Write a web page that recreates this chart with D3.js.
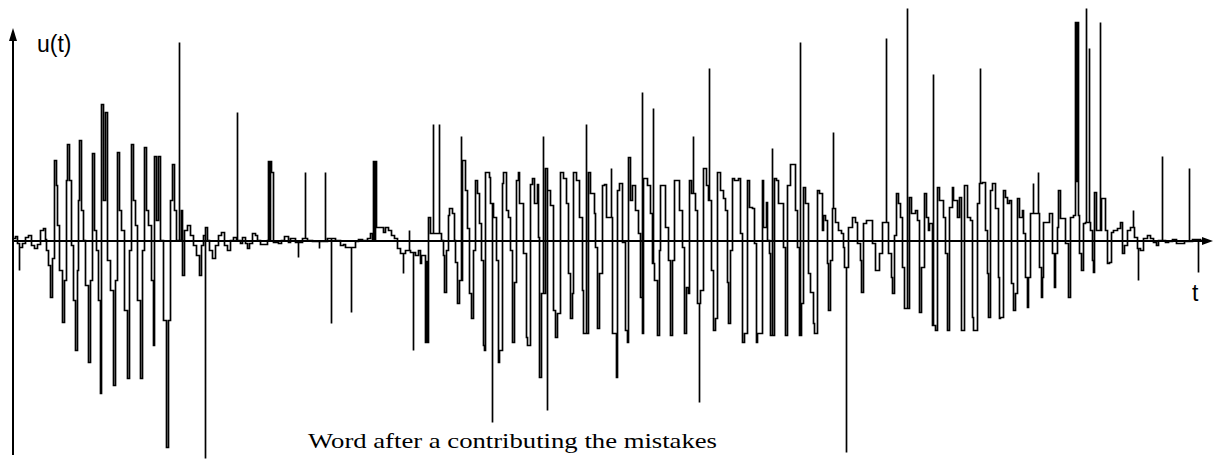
<!DOCTYPE html>
<html>
<head>
<meta charset="utf-8">
<script src="https://cdn.jsdelivr.net/npm/d3@7"></script>
<style>
  body { margin: 0; background: #fff; }
  svg { display: block; }
  .wave { fill: none; stroke: #000; stroke-width: 1.7; stroke-linejoin: miter; }
  .axis-line { stroke: #000; stroke-width: 2; shape-rendering: crispEdges; }
</style>
</head>
<body>
<div id="plot"></div>
<script>
// Samples of u(t) as [t, u]
const quietStart = [[0,3],[2,5],[4,-2],[6,-6],[9,-2],[12,4],[15,6],[18,-4],[21,-7],[24,-3],[27,11],[30,13],[32,2]];

const burstOne = [
  [33,-9],[35,-24],[37,-56],[39,-17],[41,81],[43,56],[44,16],[46,-29],[49,-81],[51,-39],
  [53,61],[54,97],[56,61],[58,-4],[60,-59],[62,-109],[64,-29],[65,41],[66,101],[68,31],
  [70,1],[72,-44],[75,-121],[77,-39],[79,88],[81,11],[83,-9],[85,-59],[87,-152],[88,137],
  [90,41],[92,129],[94,-19],[97,-49],[100,-144],[102,-39],[104,89],[106,31],[108,11],[111,-69],
  [114,-137],[116,-9],[118,97],[120,41],[122,16],[124,-59],[127,-137],[129,-9],[131,94],[133,31],
  [135,16],[138,-39],[140,-104],[141,85],[143,21],[145,85],[147,1],[150,-79],[153,-206],[154,-206],
  [155,-79],[157,41],[159,77],[161,31],[163,1],[168,31],[169,-34],[171,11],[174,16],[177,6],
  [180,-4],[183,-14],[186,-34],[188,-4],[190,6],[192,14],[194,1],[196,-9],[199,-17],[202,-4],
  [205,6],[208,9],[211,-4],[214,-9],[217,1],[220,4],[223,1],[227,-2]
];

const quietMid = [
  [229,4],[232,-2],[234,-7],[236,-2],[239,8],[242,6],[244,1],[247,-3],[250,-3],[254,1],
  [255,80],[256,2],[257,80],[258,69],[260,-1],[265,-2],[268,1],[271,5],[275,-1],[277,3],
  [282,-1],[289,3],[294,1],[299,0],[314,3],[322,1],[327,-4],[330,-3],[332,-6],[342,0],
  [345,2],[349,1],[354,3],[357,8],[359,1],[360,80],[361,2],[362,80],[363,14],[367,14],
  [370,9],[372,14],[375,11],[378,6],[381,3],[384,-7],[387,-12],[392,-9],[397,-11],[402,-14],
  [405,-9],[407,-22],[408,-14],[412,-101],[413,-20],[414,-101]
];

const burstTwo = [
  [415,24],[417,8],[422,8],[428,1],[430,-14],[431,-51],[433,-9],[435,26],[436,33],[439,28],
  [441,1],[442,-21],[444,-62],[446,-39],[449,81],[452,51],[454,13],[456,-52],[458,-77],[460,-9],
  [462,61],[464,48],[466,18],[468,-19],[470,-104],[471,-109],[472,69],[476,64],[477,38],[480,24],
  [483,-19],[485,-121],[486,-109],[489,58],[490,69],[493,31],[495,24],[497,-9],[499,-101],[501,-41],
  [503,61],[505,69],[506,38],[510,-12],[513,-96],[514,-104],[517,57],[519,63],[521,38],[524,57],
  [525,4],[526,-136],[528,-52],[532,73],[534,51],[537,36],[540,-69],[542,-96],[544,-72],[547,69],
  [550,63],[553,38],[555,-32],[557,-77],[559,-52],[560,69],[563,61],[566,24],[569,-49],[570,-92],
  [575,69],[577,48],[581,28],[582,-6],[584,-87],[586,-32],[589,56],[591,57],[593,24],[596,24],
  [599,-92],[603,-136],[604,51]
];

const burstThree = [
  [606,58],[609,-1],[612,-89],[614,-101],[615,84],[617,41],[619,56],[622,31],[625,8],[627,-56],
  [629,-92],[630,63],[634,56],[637,28],[639,-22],[641,-39],[644,-94],[646,-9],[647,56],[650,56],
  [652,14],[655,-19],[657,-94],[659,-19],[661,61],[664,61],[666,31],[668,31],[669,-6],[671,-92],
  [673,-46],[675,-52],[676,61],[678,48],[682,31],[684,-62],[687,-49],[690,73],[693,56],[695,41],
  [698,-29],[700,-89],[702,-77],[704,69],[707,51],[710,43],[712,31],[714,-41],[715,-82],[717,-9],
  [719,63],[721,61],[725,63],[727,8],[729,-101],[731,-92],[734,61],[736,34],[739,33],[741,-2],
  [743,-101],[744,-92],[749,61],[750,14],[753,39],[754,1],[756,-12],[757,-94],[761,63],[763,61],
  [765,38],[768,38],[770,-6],[772,-94],[774,56],[777,77],[779,77],[782,31],[784,-6],[786,-94],
  [788,-62]
];

const burstFour = [
  [790,54],[792,38],[795,-32],[797,-51],[800,-82],[801,-92],[804,51],[806,48],[809,11],[810,26],
  [812,21],[814,-22],[815,-69],[817,-19],[819,33],[822,19],[825,11],[828,8],[830,-6],[831,-26],
  [835,14],[839,24],[842,19],[844,-2],[847,-19],[848,-51],[850,18],[853,21],[856,21],[859,-2],
  [862,-29],[864,-29],[866,-12],[869,19],[871,19],[875,-12],[878,-36],[879,-52],[881,6],[883,48],
  [885,38],[887,24],[889,-26],[891,-67],[893,-67],[896,44],[898,28],[902,31],[904,21],[906,-71],
  [908,-26],[911,48],[913,24],[915,11],[916,18],[919,-84],[922,-89],[924,54],[926,41],[930,24],
  [932,-12],[934,-89],[936,34],[939,54],[940,41],[944,24],[946,44],[948,-89],[951,56],[954,24],
  [957,21],[959,-76],[960,-89],[964,38],[966,58],[969,59],[972,11],[974,-32],[975,-76],[977,51],
  [979,58],[982,33],[985,-36],[986,-77]
];

const tailEnd = [
  [987,-76],[989,-76],[990,51],[992,44],[994,38],[996,41],[998,-42],[1000,-69],[1002,-52],[1004,43],
  [1006,24],[1009,31],[1010,8],[1012,-36],[1014,-66],[1015,-36],[1017,28],[1022,28],[1026,-26],[1028,-56],
  [1029,-36],[1030,19],[1034,19],[1036,28],[1039,-12],[1041,-46],[1042,-12],[1044,14],[1045,51],[1047,23],
  [1050,23],[1052,-2],[1055,-56],[1057,24],[1060,26],[1062,219],[1063,60],[1064,219],[1065,26],[1066,-12],
  [1068,-29],[1070,18],[1072,19],[1077,11],[1079,-19],[1080,-31],[1081,49],[1083,11],[1088,43],[1091,43],
  [1092,11],[1094,-22],[1096,-21],[1098,9],[1100,11],[1104,13],[1107,19],[1109,-12],[1111,-4],[1114,11],
  [1117,14],[1121,4],[1124,-7],[1127,-9],[1130,3],[1134,6],[1137,3],[1140,-1],[1143,-4],[1145,1],
  [1152,-1],[1155,0],[1159,2],[1163,-2],[1167,-2],[1171,0],[1179,2],[1187,1],[1191,0]
];

// Single-sample spikes [t, u]
const spikes = [
  [6,-29],[166,199],[192,-217],[224,129],[285,-16],[292,69],[306,-7],[312,69],[318,-82],[338,-71],
  [390,-32],[396,11],[400,-109],[420,117],[426,117],[448,105],[479,-181],[530,105],[534,-169],[573,117],
  [598,73],[629,149],[640,133],[680,105],[686,-161],[696,173],[759,93],[787,199],[820,109],[833,-211],
  [873,203],[894,233],[920,167],[967,173],[1020,58],[1025,69],[1073,233],[1076,193],[1087,219],[1120,31],
  [1125,-39],[1149,85],[1176,73],[1185,-31]
];

const yLabel = "u(t)";
const xLabel = "t";
const caption = "Word after a contributing the mistakes";

const width = 1213, height = 459;

const x = d3.scaleLinear().domain([0, 1200]).range([13, 1213]);
const y = d3.scaleLinear().domain([-218, 241]).range([459, 0]);

const svg = d3.select("#plot")
  .append("svg")
  .attr("width", width)
  .attr("height", height);

svg.append("rect").attr("width", width).attr("height", height).attr("fill", "#fff");

// Merge the samples and put each spike in as an up-and-back pair
const samples = [].concat(quietStart, burstOne, quietMid, burstTwo, burstThree, burstFour, tailEnd)
  .sort((a, b) => a[0] - b[0]);

const events = samples.map((d, i) => ({t: d[0], k: 0, i: i, u: d[1]}));
spikes.forEach((s, j) => {
  const prev = samples.filter(d => d[0] <= s[0]);
  const base = prev.length ? prev[prev.length - 1][1] : 0;
  events.push({t: s[0], k: 1, i: j, u: s[1]});
  events.push({t: s[0], k: 2, i: j, u: base});
});
events.sort((a, b) => a.t - b.t || a.k - b.k || a.i - b.i);

const wave = d3.line()
  .x(d => Math.round(x(d.t)) + 0.5)
  .y(d => Math.round(y(d.u)) + 0.5)
  .curve(d3.curveStepAfter);

// Axes
svg.append("line")
  .attr("class", "axis-line")
  .attr("x1", x(0)).attr("x2", x(1192))
  .attr("y1", y(0)).attr("y2", y(0));

svg.append("line")
  .attr("class", "axis-line")
  .attr("x1", x(0)).attr("x2", x(0))
  .attr("y1", y(-214)).attr("y2", y(203));

svg.append("path")
  .attr("d", `M${x(1200)},${y(0)}L${x(1189)},${y(4)}L${x(1189)},${y(-4)}Z`)
  .attr("fill", "#000");

svg.append("path")
  .attr("d", `M${x(0)},${y(213)}L${x(-4)},${y(200)}L${x(4)},${y(200)}Z`)
  .attr("fill", "#000");

// The signal
svg.append("path")
  .datum(events)
  .attr("class", "wave")
  .attr("d", wave);

// Labels
svg.append("text")
  .attr("x", 37).attr("y", 52)
  .attr("font-family", "Liberation Sans, Arial, sans-serif")
  .attr("font-size", 23)
  .text(yLabel);

svg.append("text")
  .attr("x", 1192).attr("y", 301)
  .attr("font-family", "Liberation Sans, Arial, sans-serif")
  .attr("font-size", 23)
  .text(xLabel);

svg.append("text")
  .attr("x", 308).attr("y", 448)
  .attr("font-family", "Liberation Serif, Times New Roman, serif")
  .attr("font-size", 21)
  .attr("textLength", 409)
  .attr("lengthAdjust", "spacingAndGlyphs")
  .text(caption);
</script>
</body>
</html>
